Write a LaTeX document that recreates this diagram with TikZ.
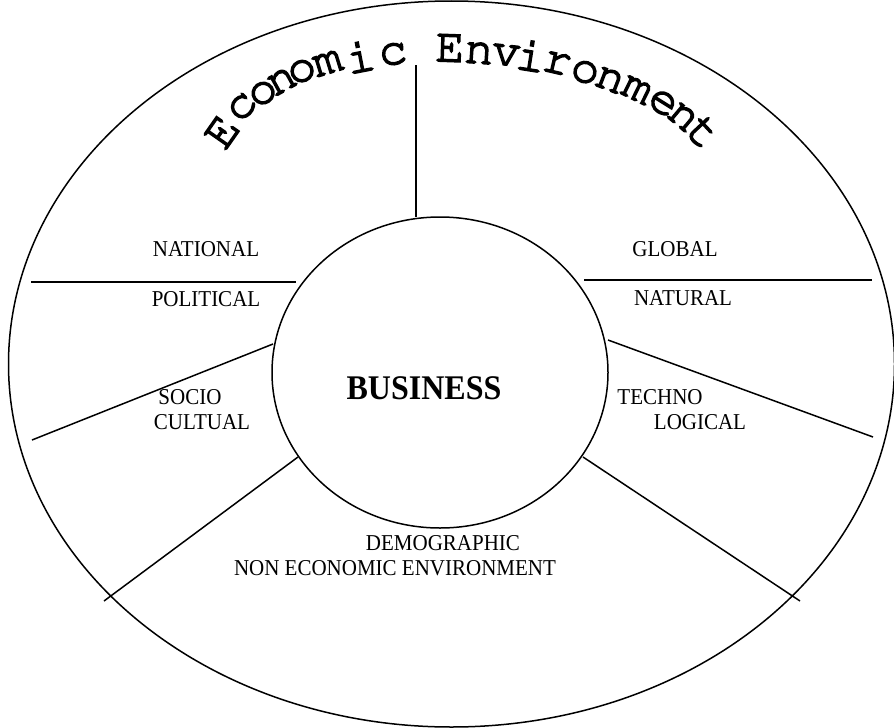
\documentclass[tikz,border=0pt]{standalone}
\usepackage{fontspec}
\usepackage{graphicx}
\setmainfont{Liberation Serif}
\usetikzlibrary{shapes.geometric}
\newcommand\vstretch[1]{\scalebox{1}[1.08]{#1}}
\newcommand\courierfont{\fontencoding{OT1}\fontfamily{pcr}\fontseries{m}\fontshape{n}\fontsize{48}{48}\selectfont}
\newcommand\thickchar[1]{\special{pdf:literal direct 2 Tr 1.5 w 0 G}#1\special{pdf:literal direct 0 Tr}}
\tikzset{
  edge/.style={line width=1.5pt, black},
  lbl/.style={inner sep=0pt, font=\fontsize{21}{21}\selectfont},
  titlechar/.style={inner sep=0pt, font=\courierfont},
}
\begin{document}
\begin{tikzpicture}[x=1pt,y=-1pt]
\useasboundingbox (0,0) rectangle (894,728);
% outer ellipse
\node[ellipse, draw, line width=1.5pt, minimum width=886pt, minimum height=726pt, inner sep=0pt] (outer) at (451.5,364) {};
% inner circle
\node[ellipse, draw, line width=1.5pt, minimum width=336pt, minimum height=311pt, inner sep=0pt] (biz) at (440,372.5) {};
% free ends of the dividing lines
\coordinate (vtop) at (416,65);
\coordinate (vbot) at (416,217);
\coordinate (lh1) at (31,282);
\coordinate (lh2) at (296,282);
\coordinate (rh1) at (584,280);
\coordinate (rh2) at (872,280);
\coordinate (lu1) at (273,344);
\coordinate (lu2) at (32,440);
\coordinate (ru1) at (608,340);
\coordinate (ru2) at (873,437);
\coordinate (ll1) at (298,457);
\coordinate (ll2) at (104,601);
\coordinate (rl1) at (583,457);
\coordinate (rl2) at (800,601);
\draw[edge] (vtop) -- (vbot);
\draw[edge] (lh1) -- (lh2);
\draw[edge] (rh1) -- (rh2);
\draw[edge] (lu1) -- (lu2);
\draw[edge] (ru1) -- (ru2);
\draw[edge] (ll1) -- (ll2);
\draw[edge] (rl1) -- (rl2);
% labels
\node[lbl] (national) at (206,249) {\vstretch{NATIONAL}};
\node[lbl] (political) at (206,299) {\vstretch{POLITICAL}};
\node[lbl] (global) at (675,249) {\vstretch{GLOBAL}};
\node[lbl] (natural) at (683,298) {\vstretch{NATURAL}};
\node[lbl] (socio) at (190,397) {\vstretch{SOCIO}};
\node[lbl] (cultual) at (202,422) {\vstretch{CULTUAL}};
\node[lbl] (techno) at (660,397) {\vstretch{TECHNO}};
\node[lbl] (logical) at (700,422) {\vstretch{LOGICAL}};
\node[inner sep=0pt, font=\bfseries\fontsize{32}{32}\selectfont] (business) at (424,388) {\vstretch{BUSINESS}};
\node[lbl] (demo) at (443,543) {\vstretch{DEMOGRAPHIC}};
\node[lbl] (noneco) at (395,568) {\vstretch{NON ECONOMIC ENVIRONMENT}};
% curved title
\foreach \ch/\px/\py/\rr [count=\i] in {
  E/222/132/55, c/242/107/45, o/263/93/36, n/282/81/29, o/302/71/23,
  m/328/63/17, i/360/56/11, c/393/54/5,
  E/450/48/-2, n/479/53/-4, v/506/55/-6, i/531/55/-9, r/557/63/-13,
  o/585/72/-17, n/610/80/-21, m/637/90/-26, e/663/103/-32, n/683/117/-40,
  t/703/132/-47}
  \node[titlechar, rotate=\rr] (t\i) at (\px,\py) {\thickchar{\ch}};
\end{tikzpicture}
\end{document}
